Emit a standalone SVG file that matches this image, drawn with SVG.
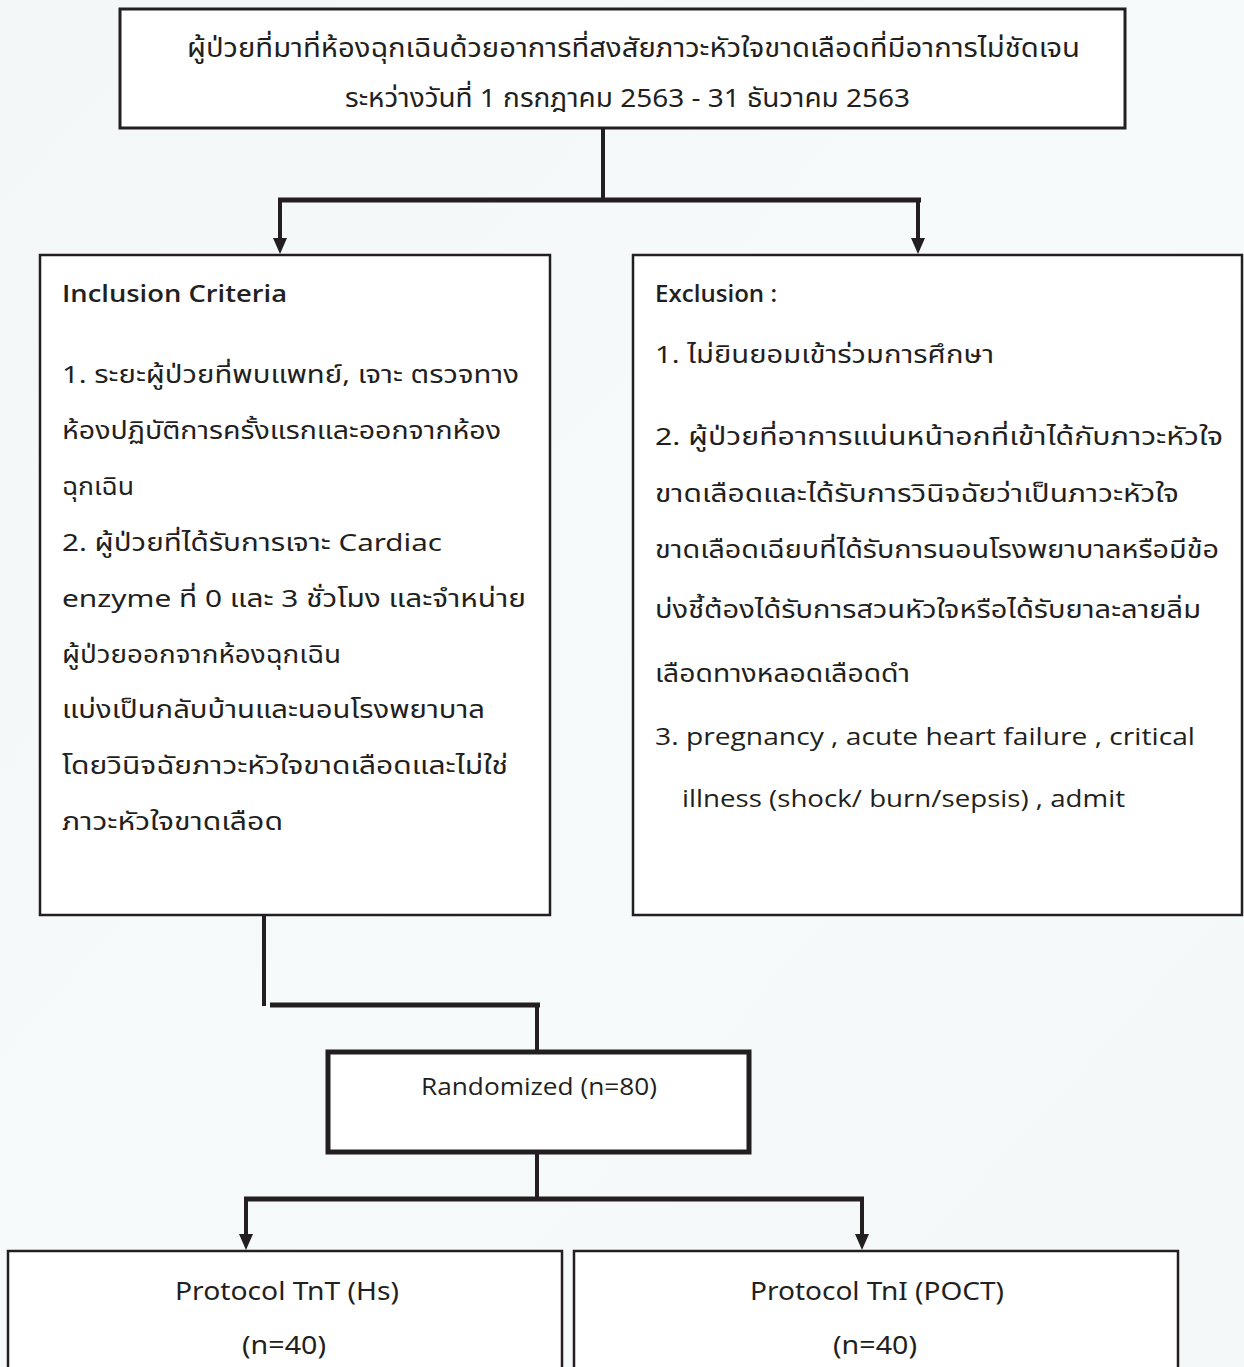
<svg xmlns="http://www.w3.org/2000/svg" width="1244" height="1367" viewBox="0 0 1244 1367">
  <defs>
    <linearGradient id="bg" x1="0" y1="0" x2="1" y2="1">
      <stop offset="0" stop-color="#f3f7f8"/>
      <stop offset="0.5" stop-color="#f7fafa"/>
      <stop offset="1" stop-color="#f4f8f8"/>
    </linearGradient>
    <!-- filled arrowhead, base sits at the line end -->
    <marker id="arrow" viewBox="0 0 16 14" refX="0" refY="7" markerWidth="16" markerHeight="14" markerUnits="userSpaceOnUse" orient="auto">
      <path d="M0,0 L16,7 L0,14 Z" fill="#231f20"/>
    </marker>
    <style>
      .box { fill: #ffffff; stroke: #231f20; stroke-width: 2.5; }
      .box-thick { fill: #ffffff; stroke: #231f20; stroke-width: 3; }
      .box-heavy { fill: #ffffff; stroke: #231f20; stroke-width: 5; }
      .wire { fill: none; stroke: #231f20; stroke-width: 4; }
      .bar { fill: none; stroke: #231f20; stroke-width: 5; }
      .t { font-family: "Noto Sans Thai", "Noto Sans", "DejaVu Sans", "Open Sans", sans-serif; fill: #231f20; font-size: 24px; }
      .head { font-family: "Open Sans", "Noto Sans", sans-serif; fill: #231f20; font-size: 23px; font-weight: 600; }
      .en { font-family: "Open Sans", "Noto Sans", sans-serif; fill: #231f20; font-size: 24px; }
      .narrow { font-family: "Noto Sans Thai", "Noto Sans", "DejaVu Sans", sans-serif; fill: #231f20; font-size: 26px; }
    </style>
  </defs>

  <rect x="0" y="0" width="1244" height="1367" fill="url(#bg)"/>

  <!-- connectors -->
  <g id="connectors">
    <path class="wire" d="M603,128 V200"/>
    <path class="bar" d="M278,200 H921"/>
    <path class="wire" d="M280,198 V238" marker-end="url(#arrow)"/>
    <path class="wire" d="M918,198 V238" marker-end="url(#arrow)"/>
    <path class="wire" d="M264,916 V1006"/>
    <path class="bar" d="M270,1005 H540"/>
    <path class="wire" d="M537,1003 V1052"/>
    <path class="wire" d="M537,1152 V1199"/>
    <path class="bar" d="M244,1199 H864"/>
    <path class="wire" d="M246,1197 V1234" marker-end="url(#arrow)"/>
    <path class="wire" d="M862,1197 V1234" marker-end="url(#arrow)"/>
  </g>

  <!-- study population -->
  <g id="node-population">
    <rect class="box-thick" x="120" y="9" width="1005" height="119"/>
    <text class="narrow" x="187" y="57" textLength="893" lengthAdjust="spacingAndGlyphs">ผู้ป่วยที่มาที่ห้องฉุกเฉินด้วยอาการที่สงสัยภาวะหัวใจขาดเลือดที่มีอาการไม่ชัดเจน</text>
    <text class="narrow" x="345" y="107" textLength="565" lengthAdjust="spacingAndGlyphs">ระหว่างวันที่ 1 กรกฎาคม 2563 - 31 ธันวาคม 2563</text>
  </g>

  <!-- inclusion criteria -->
  <g id="node-inclusion">
    <rect class="box" x="40" y="255" width="510" height="660"/>
    <text class="head" x="62" y="302" textLength="225" lengthAdjust="spacingAndGlyphs">Inclusion Criteria</text>
    <text class="t" x="62" y="383" textLength="457" lengthAdjust="spacingAndGlyphs">1.  ระยะผู้ป่วยที่พบแพทย์, เจาะ ตรวจทาง</text>
    <text class="t" x="62" y="439" textLength="439" lengthAdjust="spacingAndGlyphs">ห้องปฏิบัติการครั้งแรกและออกจากห้อง</text>
    <text class="t" x="62" y="495" textLength="72" lengthAdjust="spacingAndGlyphs">ฉุกเฉิน</text>
    <text class="t" x="62" y="551" textLength="380" lengthAdjust="spacingAndGlyphs">2.  ผู้ป่วยที่ได้รับการเจาะ Cardiac</text>
    <text class="t" x="62" y="607" textLength="464" lengthAdjust="spacingAndGlyphs">enzyme ที่ 0 และ 3 ชั่วโมง และจำหน่าย</text>
    <text class="t" x="62" y="663" textLength="279" lengthAdjust="spacingAndGlyphs">ผู้ป่วยออกจากห้องฉุกเฉิน</text>
    <text class="t" x="62" y="718" textLength="423" lengthAdjust="spacingAndGlyphs">แบ่งเป็นกลับบ้านและนอนโรงพยาบาล</text>
    <text class="t" x="62" y="774" textLength="446" lengthAdjust="spacingAndGlyphs">โดยวินิจฉัยภาวะหัวใจขาดเลือดและไม่ใช่</text>
    <text class="t" x="62" y="830" textLength="221" lengthAdjust="spacingAndGlyphs">ภาวะหัวใจขาดเลือด</text>
  </g>

  <!-- exclusion criteria -->
  <g id="node-exclusion">
    <rect class="box" x="633" y="255" width="609" height="660"/>
    <text class="head" x="655" y="302" textLength="122" lengthAdjust="spacingAndGlyphs">Exclusion :</text>
    <text class="t" x="655" y="363" textLength="339" lengthAdjust="spacingAndGlyphs">1.  ไม่ยินยอมเข้าร่วมการศึกษา</text>
    <text class="t" x="655" y="445" textLength="568" lengthAdjust="spacingAndGlyphs">2.  ผู้ป่วยที่อาการแน่นหน้าอกที่เข้าได้กับภาวะหัวใจ</text>
    <text class="t" x="655" y="502" textLength="524" lengthAdjust="spacingAndGlyphs">ขาดเลือดและได้รับการวินิจฉัยว่าเป็นภาวะหัวใจ</text>
    <text class="t" x="655" y="558" textLength="564" lengthAdjust="spacingAndGlyphs">ขาดเลือดเฉียบที่ได้รับการนอนโรงพยาบาลหรือมีข้อ</text>
    <text class="t" x="655" y="618" textLength="546" lengthAdjust="spacingAndGlyphs">บ่งชี้ต้องได้รับการสวนหัวใจหรือได้รับยาละลายลิ่ม</text>
    <text class="t" x="655" y="682" textLength="255" lengthAdjust="spacingAndGlyphs">เลือดทางหลอดเลือดดำ</text>
    <text class="en" x="655" y="745" textLength="540" lengthAdjust="spacingAndGlyphs">3.  pregnancy , acute heart failure , critical</text>
    <text class="en" x="682" y="807" textLength="443" lengthAdjust="spacingAndGlyphs">illness (shock/ burn/sepsis) , admit</text>
  </g>

  <!-- randomisation -->
  <g id="node-randomized">
    <rect class="box-heavy" x="328" y="1052" width="421" height="100"/>
    <text class="en" x="421" y="1095" textLength="236" lengthAdjust="spacingAndGlyphs">Randomized (n=80)</text>
  </g>

  <!-- study arms -->
  <g id="node-arm-tnt">
    <rect class="box" x="8" y="1251" width="554" height="140"/>
    <text class="narrow" x="175" y="1300" textLength="224" lengthAdjust="spacingAndGlyphs">Protocol TnT (Hs)</text>
    <text class="narrow" x="242" y="1354" textLength="84" lengthAdjust="spacingAndGlyphs">(n=40)</text>
  </g>
  <g id="node-arm-tni">
    <rect class="box" x="574" y="1251" width="604" height="140"/>
    <text class="narrow" x="750" y="1300" textLength="254" lengthAdjust="spacingAndGlyphs">Protocol TnI (POCT)</text>
    <text class="narrow" x="833" y="1354" textLength="84" lengthAdjust="spacingAndGlyphs">(n=40)</text>
  </g>
</svg>
